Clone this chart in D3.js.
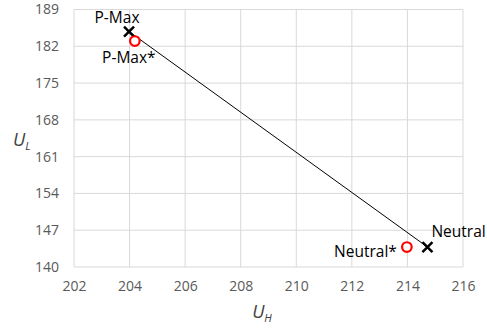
<!DOCTYPE html>
<html>
<head>
<meta charset="utf-8">
<script src="https://cdn.jsdelivr.net/npm/d3@7"></script>
<style>
body{margin:0;background:#fff;}
text{font-family:"Open Sans","Liberation Sans",sans-serif;}
</style>
</head>
<body>
<div id="chart"></div>
<script>
var width = 487,
	height = 329,
	margin = {top:9.5,left:74,right:24,bottom:62};

var xTicks = [202,204,206,208,210,212,214,216],
	yTicks = [140,147,154,161,168,175,182,189];

// optimum points (X) and their starred counterparts (O)
var crossNames = ["P-Max","Neutral"],
	crossX = [203.98,214.72],
	crossY = [184.8,143.8];
var circleNames = ["P-Max*","Neutral*"],
	circleX = [204.19,213.98],
	circleY = [183.0,143.8];

var X = d3.scaleLinear().domain([202,216]).range([margin.left,width-margin.right]);
var Y = d3.scaleLinear().domain([140,189]).range([height-margin.bottom,margin.top]);

var svg = d3.select("#chart").append("svg")
	.attr("width",width)
	.attr("height",height);

// grid
svg.selectAll(".gx").data(xTicks).enter().append("line")
	.attr("x1",X).attr("x2",X)
	.attr("y1",Y(140)).attr("y2",Y(189))
	.attr("stroke","#d9d9d9").attr("stroke-width",1);
svg.selectAll(".gy").data(yTicks).enter().append("line")
	.attr("x1",X(202)).attr("x2",X(216))
	.attr("y1",Y).attr("y2",Y)
	.attr("stroke","#d9d9d9").attr("stroke-width",1);

// axes
var xAxis = svg.append("g").attr("transform","translate(0,"+Y(140)+")")
	.call(d3.axisBottom(X).tickValues(xTicks).tickSize(0).tickPadding(14));
var yAxis = svg.append("g").attr("transform","translate("+X(202)+",0)")
	.call(d3.axisLeft(Y).tickValues(yTicks).tickSize(0).tickPadding(15));
[xAxis,yAxis].forEach(function(a){
	a.select(".domain").remove();
	a.selectAll("text").attr("fill","#595959").style("font-size","14px");
});

// axis titles
var xt = svg.append("text").attr("x",262).attr("y",318)
	.attr("text-anchor","middle").attr("fill","#404040")
	.style("font-size","18px").style("font-style","italic");
xt.append("tspan").text("U");
xt.append("tspan").attr("dy",4).style("font-size","11px").text("H");

var yt = svg.append("text").attr("x",13).attr("y",146)
	.attr("fill","#404040")
	.style("font-size","18px").style("font-style","italic");
yt.append("tspan").text("U");
yt.append("tspan").attr("dy",4).style("font-size","11px").text("L");

// connecting line between the two X points
svg.append("line")
	.attr("x1",X(crossX[0])).attr("y1",Y(crossY[0]))
	.attr("x2",X(crossX[1])).attr("y2",Y(crossY[1]))
	.attr("stroke","#000").attr("stroke-width",1);

// X markers
var s = 5;
svg.selectAll(".cross").data(crossX).enter().append("path")
	.attr("d",function(d,i){
		var cx = X(d), cy = Y(crossY[i]);
		return "M"+(cx-s)+","+(cy-s)+"L"+(cx+s)+","+(cy+s)+"M"+(cx-s)+","+(cy+s)+"L"+(cx+s)+","+(cy-s);
	})
	.attr("stroke","#000").attr("stroke-width",2.5).attr("fill","none");

// O markers
svg.selectAll(".circ").data(circleX).enter().append("circle")
	.attr("cx",X).attr("cy",function(d,i){return Y(circleY[i]);})
	.attr("r",4.8)
	.attr("fill","#fff").attr("stroke","#ff0000").attr("stroke-width",2.2);

// labels
var crossOff = [[-12,-9,"middle"],[4,-10,"start"]],
	circleOff = [[-6,22,"middle"],[-10,10,"end"]];
svg.selectAll(".cl").data(crossNames).enter().append("text")
	.attr("x",function(d,i){return X(crossX[i])+crossOff[i][0];})
	.attr("y",function(d,i){return Y(crossY[i])+crossOff[i][1];})
	.attr("text-anchor",function(d,i){return crossOff[i][2];})
	.style("font-size","15.5px").attr("fill","#000")
	.text(function(d){return d;});
svg.selectAll(".ol").data(circleNames).enter().append("text")
	.attr("x",function(d,i){return X(circleX[i])+circleOff[i][0];})
	.attr("y",function(d,i){return Y(circleY[i])+circleOff[i][1];})
	.attr("text-anchor",function(d,i){return circleOff[i][2];})
	.style("font-size","15.5px").attr("fill","#000")
	.text(function(d){return d;});
</script>
</body>
</html>
